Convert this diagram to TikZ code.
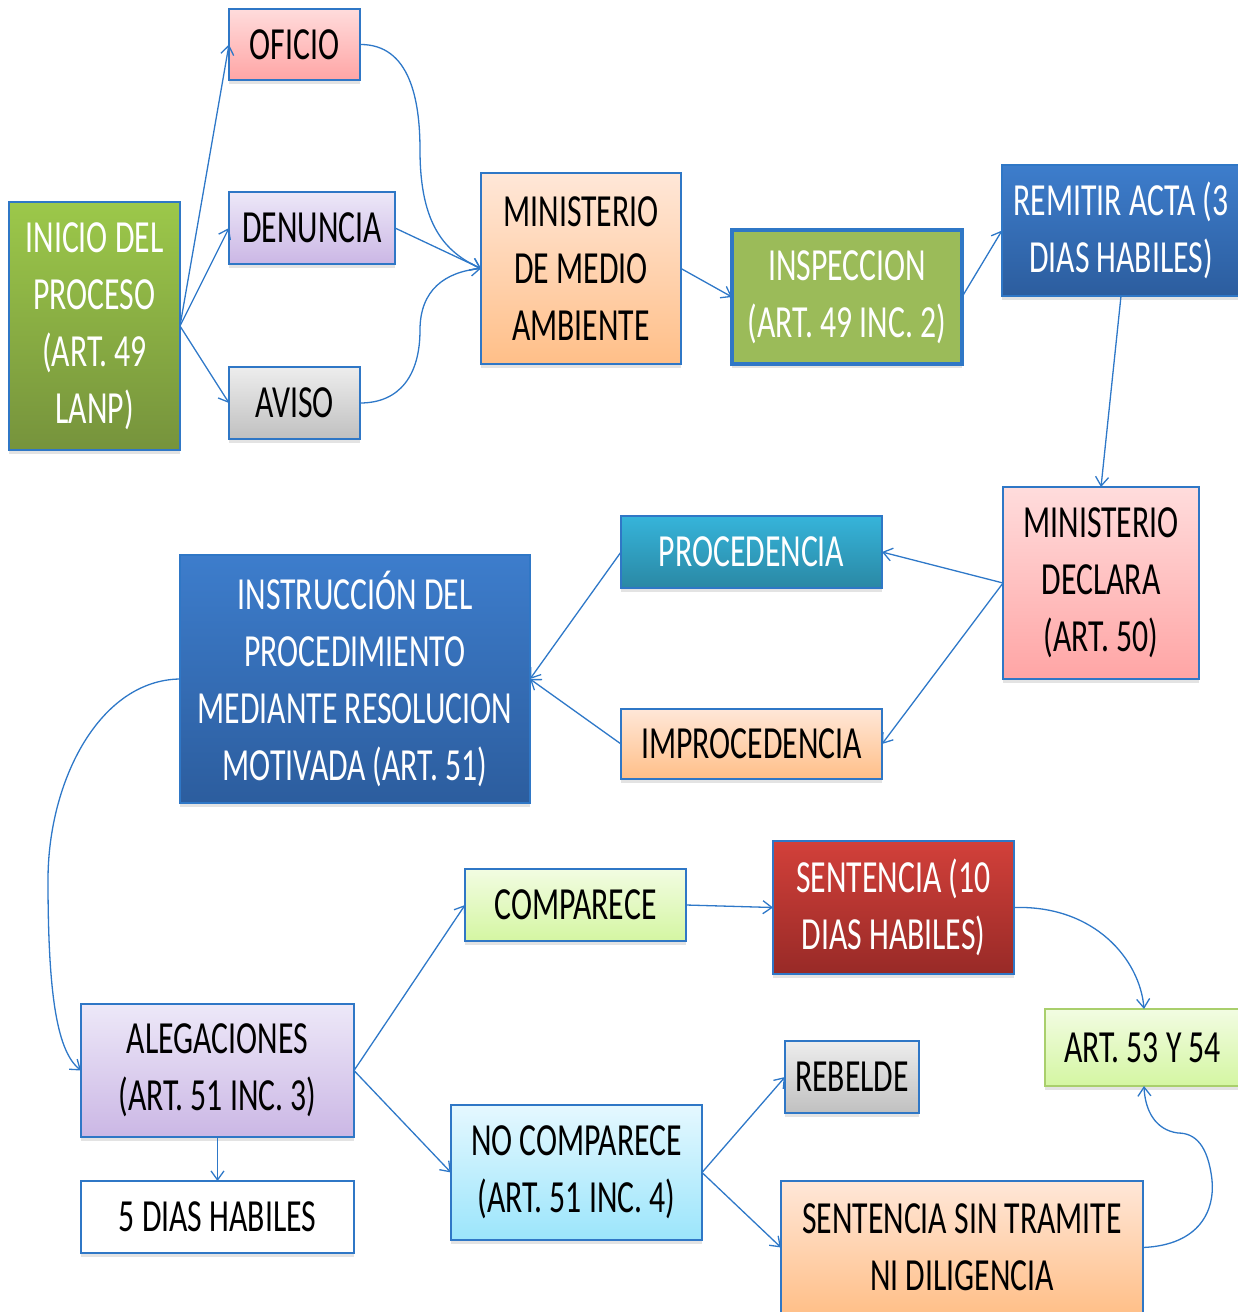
\documentclass[tikz,border=0pt]{standalone}
\usepackage{fontspec}
\setmainfont{Carlito}[FakeStretch=0.69]
\usetikzlibrary{arrows.meta,shadows}
\definecolor{edgeblue}{HTML}{2E78C8}
\definecolor{boxline}{HTML}{2F77C6}
\definecolor{greenT}{HTML}{9CC84A}\definecolor{greenB}{HTML}{76933C}
\definecolor{pinkT}{HTML}{FFDCDC}\definecolor{pinkB}{HTML}{FFA5A5}
\definecolor{lavT}{HTML}{EDE8F8}\definecolor{lavB}{HTML}{CBB7E5}
\definecolor{grayT}{HTML}{EDEDED}\definecolor{grayB}{HTML}{C0C0C0}
\definecolor{peachT}{HTML}{FFE7D8}\definecolor{peachB}{HTML}{FFBF88}
\definecolor{inspG}{HTML}{9BBB59}
\definecolor{blueT}{HTML}{3D7DCC}\definecolor{blueB}{HTML}{2C5D9E}
\definecolor{tealT}{HTML}{36B4DA}\definecolor{tealB}{HTML}{2A88A4}
\definecolor{lgT}{HTML}{F2FCE2}\definecolor{lgB}{HTML}{D4F6A2}
\definecolor{redT}{HTML}{D2403A}\definecolor{redB}{HTML}{982A27}
\definecolor{cyT}{HTML}{E5F8FF}\definecolor{cyB}{HTML}{9BE5FB}
\definecolor{artline}{HTML}{A9CF6C}
\begin{document}
\begin{tikzpicture}[x=1pt,y=-1pt,
  box/.style={draw=boxline, line width=1.8pt, inner sep=0pt, outer sep=0pt, align=center,
    font=\fontsize{46}{57}\selectfont,
    drop shadow={shadow xshift=0pt,shadow yshift=-4pt,opacity=0.22}},
  shade2/.style 2 args={top color=#1, bottom color=#2},
  conn/.style={draw=edgeblue, line width=1.3pt, -{Straight Barb[length=9pt,width=13pt]}}]
\useasboundingbox (0,0) rectangle (1238,1312);
\clip (0,0) rectangle (1238,1312);
% nodes
\node[box, shade2={greenT}{greenB}, text=white, minimum width=171pt, minimum height=248pt] (inicio) at (94.5,326) {INICIO DEL\\PROCESO\\(ART. 49\\LANP)};
\node[box, shade2={pinkT}{pinkB}, minimum width=131pt, minimum height=71pt] (oficio) at (294.5,44.5) {OFICIO};
\node[box, shade2={lavT}{lavB}, minimum width=166pt, minimum height=72pt] (denuncia) at (312,228) {DENUNCIA};
\node[box, shade2={grayT}{grayB}, minimum width=131pt, minimum height=72pt] (aviso) at (294.5,403) {AVISO};
\node[box, shade2={peachT}{peachB}, minimum width=200pt, minimum height=191pt] (mma) at (581,268.5) {MINISTERIO\\DE MEDIO\\AMBIENTE};
\node[box, fill=inspG, line width=3.5pt, text=white, minimum width=230pt, minimum height=134pt] (insp) at (847,297) {INSPECCION\\(ART. 49 INC. 2)};
\node[box, shade2={blueT}{blueB}, text=white, minimum width=238pt, minimum height=131pt] (remitir) at (1121,230.5) {REMITIR ACTA (3\\DIAS HABILES)};
\node[box, shade2={pinkT}{pinkB}, minimum width=196pt, minimum height=192pt] (declara) at (1101,583) {MINISTERIO\\DECLARA\\(ART. 50)};
\node[box, shade2={tealT}{tealB}, text=white, minimum width=261pt, minimum height=72pt] (proc) at (751.5,552) {PROCEDENCIA};
\node[box, shade2={peachT}{peachB}, minimum width=261pt, minimum height=70pt] (improc) at (751.5,744) {IMPROCEDENCIA};
\node[box, shade2={blueT}{blueB}, text=white, minimum width=350pt, minimum height=248pt] (instr) at (355,679) {INSTRUCCIÓN DEL\\PROCEDIMIENTO\\MEDIANTE RESOLUCION\\MOTIVADA (ART. 51)};
\node[box, shade2={lgT}{lgB}, minimum width=221pt, minimum height=72pt] (comp) at (575.5,905) {COMPARECE};
\node[box, shade2={redT}{redB}, text=white, minimum width=241pt, minimum height=133pt] (sent10) at (893.5,907.5) {SENTENCIA (10\\DIAS HABILES)};
\node[box, shade2={lgT}{lgB}, draw=artline, minimum width=195pt, minimum height=77pt] (art53) at (1142.5,1047.5) {ART. 53 Y 54};
\node[box, shade2={lavT}{lavB}, minimum width=273pt, minimum height=133pt] (aleg) at (217.5,1070.5) {ALEGACIONES\\(ART. 51 INC. 3)};
\node[box, fill=white, minimum width=273pt, minimum height=72pt] (cinco) at (217.5,1217) {5 DIAS HABILES};
\node[box, shade2={cyT}{cyB}, minimum width=251pt, minimum height=135pt] (nocomp) at (576.5,1172.5) {NO COMPARECE\\(ART. 51 INC. 4)};
\node[box, shade2={grayT}{grayB}, minimum width=134pt, minimum height=72pt] (rebelde) at (852,1077) {REBELDE};
\node[box, shade2={peachT}{peachB}, minimum width=362pt, minimum height=133pt] (sentsin) at (962,1247.5) {SENTENCIA SIN TRAMITE\\NI DILIGENCIA};
% connectors
\draw[conn] (inicio.east) -- (oficio.west);
\draw[conn] (inicio.east) -- (denuncia.west);
\draw[conn] (inicio.east) -- (aviso.west);
\draw[conn] (oficio.east) .. controls (410,44) and (420,100) .. (420,150) .. controls (420,225) and (445,252) .. (mma.west);
\draw[conn] (denuncia.east) -- (mma.west);
\draw[conn] (aviso.east) .. controls (400,403) and (420,375) .. (420,330) .. controls (420,290) and (445,272) .. (mma.west);
\draw[conn] (mma.east) -- (insp.west);
\draw[conn] (insp.east) -- (remitir.west);
\draw[conn] (remitir.south) -- (declara.north);
\draw[conn] (declara.west) -- (proc.east);
\draw[conn] (declara.west) -- (improc.east);
\draw[conn] (proc.west) -- (instr.east);
\draw[conn] (improc.west) -- (instr.east);
\draw[conn] (instr.west) .. controls (100,680) and (48,780) .. (48,880) .. controls (48,1000) and (58,1052) .. (aleg.west);
\draw[conn] (aleg.east) -- (comp.west);
\draw[conn] (aleg.east) -- (nocomp.west);
\draw[conn] (aleg.south) -- (cinco.north);
\draw[conn] (comp.east) -- (sent10.west);
\draw[conn] (sent10.east) .. controls (1095,905) and (1140,960) .. (1144,1009);
\draw[conn] (nocomp.east) -- (rebelde.west);
\draw[conn] (nocomp.east) -- (sentsin.west);
\draw[conn] (sentsin.east) .. controls (1200,1245) and (1215,1210) .. (1212,1180) .. controls (1208,1145) and (1195,1133) .. (1178,1133) .. controls (1155,1130) and (1145,1110) .. (1144,1086);
\end{tikzpicture}
\end{document}
